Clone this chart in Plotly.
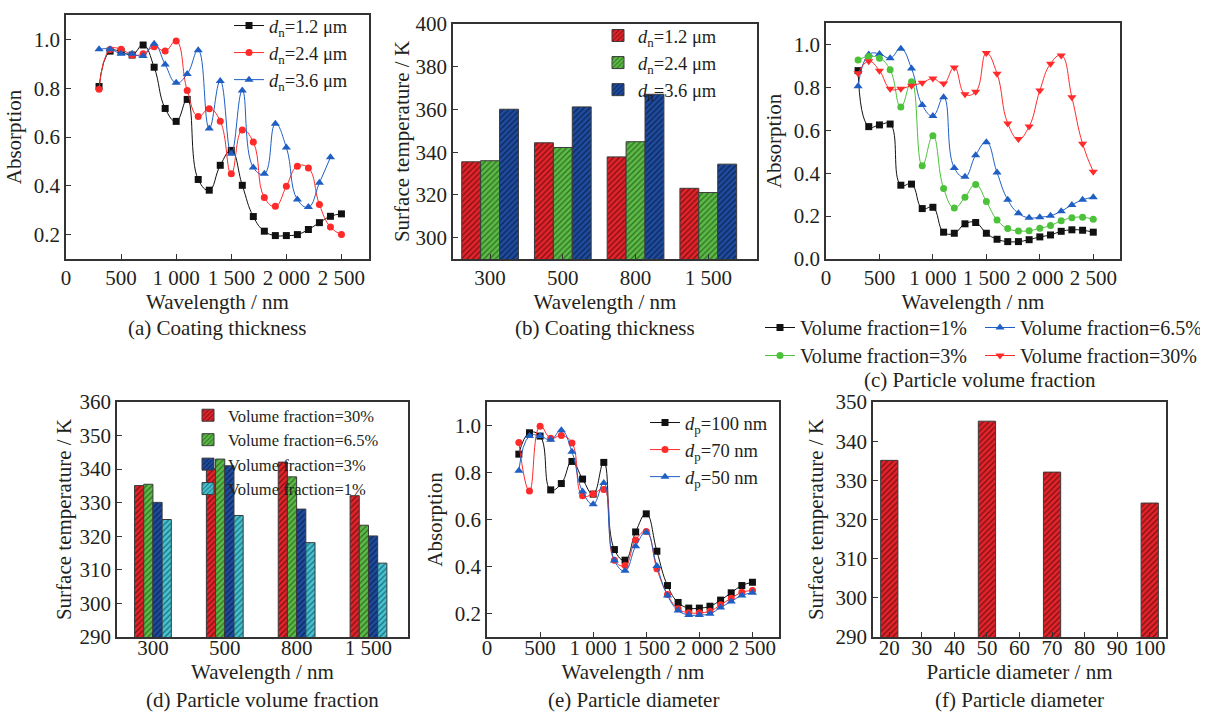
import plotly.graph_objects as go

# ---------------- data ----------------
wl = [300, 400, 500, 600, 700, 800, 900, 1000, 1100, 1200, 1300, 1400, 1500,
      1600, 1700, 1800, 1900, 2000, 2100, 2200, 2300, 2400, 2500]
wl_short = wl[:-1]
wl_ticks = [0, 500, 1000, 1500, 2000, 2500]
wl_ticklabels = ["0", "500", "1 000", "1 500", "2 000", "2 500"]

# (a) coating thickness - absorption
a_d12 = [0.807, 0.952, 0.950, 0.936, 0.977, 0.886, 0.717, 0.664, 0.754, 0.426, 0.382, 0.484,
         0.545, 0.402, 0.274, 0.214, 0.196, 0.196, 0.200, 0.221, 0.249, 0.275, 0.285]
a_d24 = [0.796, 0.959, 0.960, 0.936, 0.941, 0.970, 0.952, 0.993, 0.791, 0.684, 0.716, 0.665,
         0.449, 0.629, 0.579, 0.352, 0.316, 0.398, 0.480, 0.473, 0.323, 0.231, 0.200]
a_d36 = [0.960, 0.960, 0.941, 0.941, 0.932, 0.982, 0.897, 0.822, 0.858, 0.956, 0.635, 0.830,
         0.531, 0.791, 0.475, 0.449, 0.654, 0.557, 0.344, 0.313, 0.412, 0.517]

# (b) coating thickness - surface temperature
b_cats = ["300", "500", "800", "1 500"]
b_d12 = [335.5, 344.4, 337.8, 323.1]
b_d24 = [336.0, 342.2, 344.9, 321.1]
b_d36 = [360.1, 361.2, 367.1, 334.4]

# (c) particle volume fraction - absorption
c_1 = [0.878, 0.617, 0.625, 0.629, 0.344, 0.349, 0.235, 0.241, 0.125, 0.120, 0.164, 0.170,
       0.120, 0.092, 0.081, 0.081, 0.090, 0.103, 0.112, 0.129, 0.136, 0.134, 0.125]
c_3 = [0.928, 0.944, 0.936, 0.882, 0.709, 0.826, 0.435, 0.575, 0.329, 0.238, 0.288, 0.347,
       0.268, 0.182, 0.142, 0.131, 0.132, 0.143, 0.156, 0.178, 0.192, 0.195, 0.185]
c_65 = [0.805, 0.953, 0.956, 0.936, 0.980, 0.888, 0.718, 0.667, 0.754, 0.424, 0.383, 0.484,
        0.544, 0.403, 0.276, 0.213, 0.192, 0.195, 0.202, 0.223, 0.252, 0.276, 0.288]
c_30 = [0.866, 0.922, 0.878, 0.793, 0.794, 0.808, 0.821, 0.841, 0.818, 0.893, 0.768, 0.779,
        0.960, 0.864, 0.632, 0.559, 0.618, 0.785, 0.910, 0.949, 0.754, 0.537, 0.407]

# (d) particle volume fraction - surface temperature
d_cats = ["300", "500", "800", "1 500"]
d_30 = [335.1, 340.1, 342.1, 332.1]
d_65 = [335.5, 343.0, 337.7, 323.3]
d_3 = [330.1, 341.0, 328.1, 320.1]
d_1 = [325.0, 326.2, 318.1, 312.0]

# (e) particle diameter - absorption
e_100 = [0.878, 0.969, 0.955, 0.726, 0.753, 0.847, 0.772, 0.708, 0.843, 0.472, 0.427, 0.547,
         0.624, 0.465, 0.319, 0.247, 0.223, 0.223, 0.231, 0.257, 0.288, 0.319, 0.333]
e_70 = [0.928, 0.721, 0.997, 0.946, 0.957, 0.926, 0.701, 0.709, 0.728, 0.427, 0.404, 0.513,
        0.549, 0.390, 0.281, 0.220, 0.203, 0.203, 0.210, 0.237, 0.265, 0.290, 0.298]
e_50 = [0.807, 0.955, 0.955, 0.939, 0.980, 0.888, 0.719, 0.665, 0.755, 0.426, 0.382, 0.486,
        0.545, 0.402, 0.277, 0.213, 0.194, 0.194, 0.199, 0.226, 0.251, 0.277, 0.288]

# (f) particle diameter - surface temperature
f_diam = [20, 50, 70, 100]
f_temp = [335.1, 345.1, 332.1, 324.2]

captions = ["(a) Coating thickness", "(b) Coating thickness", "(c) Particle volume fraction",
            "(d) Particle volume fraction", "(e) Particle diameter", "(f) Particle diameter"]

# ---------------- style ----------------
FONT = "Liberation Serif"
TXT = "#231f20"
W, H = 1225, 712
BLACK, RED, BLUE, GREEN = "#111111", "#ff2a2a", "#1f5fc4", "#4cc23a"
BAR_RED, BAR_GREEN, BAR_BLUE, BAR_CYAN = "#e3242b", "#5dba47", "#1f4c9f", "#45c3d3"

def px_dom_x(a, b):
    return [a / W, b / W]

def px_dom_y(top, bottom):
    return [1 - bottom / H, 1 - top / H]

fig = go.Figure()

def line_trace(x, y, name, color, symbol, size, ax, legend):
    return go.Scatter(x=x, y=y, name=name, mode="lines+markers",
                      line=dict(color=color, width=1, shape="spline", smoothing=1.3),
                      marker=dict(symbol=symbol, size=size, color=color),
                      xaxis="x" + ax, yaxis="y" + ax, legend=legend)

def bar_trace(x, y, name, color, fg, ax, legend, width, offset):
    return go.Bar(x=x, y=y, name=name, width=width, offset=offset,
                  marker=dict(color=color, line=dict(color="#3a3a3a", width=1),
                              pattern=dict(shape="/", bgcolor=color, fgcolor=fg, size=4, solidity=0.3)),
                  xaxis="x" + ax, yaxis="y" + ax, legend=legend)

dn = lambda v: "<i>d</i><sub>n</sub>=" + v + " μm"
dp = lambda v: "<i>d</i><sub>p</sub>=" + v + " nm"

# (a)
fig.add_trace(line_trace(wl, a_d12, dn("1.2"), BLACK, "square", 7, "", "legend"))
fig.add_trace(line_trace(wl, a_d24, dn("2.4"), RED, "circle", 7, "", "legend"))
fig.add_trace(line_trace(wl_short, a_d36, dn("3.6"), BLUE, "triangle-up", 8, "", "legend"))

# (b)
bw = 0.26
fig.add_trace(bar_trace(b_cats, b_d12, dn("1.2"), BAR_RED, "#7a0f12", "2", "legend2", bw, -1.5 * bw))
fig.add_trace(bar_trace(b_cats, b_d24, dn("2.4"), BAR_GREEN, "#2d6e22", "2", "legend2", bw, -0.5 * bw))
fig.add_trace(bar_trace(b_cats, b_d36, dn("3.6"), BAR_BLUE, "#0c2556", "2", "legend2", bw, 0.5 * bw))

# (c)
fig.add_trace(line_trace(wl, c_1, "Volume fraction=1%", BLACK, "square", 7, "3", "legend3"))
fig.add_trace(line_trace(wl, c_65, "Volume fraction=6.5%", BLUE, "triangle-up", 8, "3", "legend3"))
fig.add_trace(line_trace(wl, c_3, "Volume fraction=3%", GREEN, "circle", 7, "3", "legend4"))
fig.add_trace(line_trace(wl, c_30, "Volume fraction=30%", RED, "triangle-down", 8, "3", "legend4"))

# (d)
dw = 0.128
fig.add_trace(bar_trace(d_cats, d_30, "Volume fraction=30%", BAR_RED, "#7a0f12", "4", "legend5", dw, -2 * dw))
fig.add_trace(bar_trace(d_cats, d_65, "Volume fraction=6.5%", BAR_GREEN, "#2d6e22", "4", "legend5", dw, -1 * dw))
fig.add_trace(bar_trace(d_cats, d_3, "Volume fraction=3%", BAR_BLUE, "#0c2556", "4", "legend5", dw, 0))
fig.add_trace(bar_trace(d_cats, d_1, "Volume fraction=1%", BAR_CYAN, "#1d6e7a", "4", "legend5", dw, dw))

# (e)
fig.add_trace(line_trace(wl, e_100, dp("100"), BLACK, "square", 7, "5", "legend6"))
fig.add_trace(line_trace(wl, e_70, dp("70"), RED, "circle", 7, "5", "legend6"))
fig.add_trace(line_trace(wl, e_50, dp("50"), BLUE, "triangle-up", 8, "5", "legend6"))

# (f)
fig.add_trace(go.Bar(x=f_diam, y=f_temp, width=5.3, showlegend=False,
                     marker=dict(color=BAR_RED, line=dict(color="#3a3a3a", width=1),
                                 pattern=dict(shape="/", bgcolor=BAR_RED, fgcolor="#7a0f12", size=4, solidity=0.3)),
                     xaxis="x6", yaxis="y6"))

axis_common = dict(showline=True, mirror=True, linecolor="#333333", linewidth=1.5,
                   ticks="inside", ticklen=5, tickwidth=1, tickcolor="#333333",
                   showgrid=False, zeroline=False, automargin=False,
                   tickfont=dict(family=FONT, size=21, color=TXT))

def xax(dom, title, lab_off, title_off, **kw):
    d = dict(axis_common)
    d.update(domain=dom, title=dict(text=title, font=dict(family=FONT, size=21, color=TXT), standoff=title_off),
             ticklabelstandoff=lab_off)
    d.update(kw)
    return d

def yax(dom, title, anchor, title_off=6, **kw):
    d = dict(axis_common)
    d.update(domain=dom, anchor=anchor,
             title=dict(text=title, font=dict(family=FONT, size=21, color=TXT), standoff=title_off))
    d.update(kw)
    return d

abs_ticks = [0.2, 0.4, 0.6, 0.8, 1.0]
abs_ticks_c = [0.0, 0.2, 0.4, 0.6, 0.8, 1.0]

dom = {
    "a": (px_dom_x(66, 369), px_dom_y(15, 259)),
    "b": (px_dom_x(453, 757), px_dom_y(24, 259)),
    "c": (px_dom_x(826, 1120), px_dom_y(23, 259)),
    "d": (px_dom_x(117, 408), px_dom_y(402, 637)),
    "e": (px_dom_x(487, 779), px_dom_y(402, 637)),
    "f": (px_dom_x(873, 1166), px_dom_y(402, 637)),
}

TOP_LAB, TOP_TIT = -1, 2
BOT_LAB, BOT_TIT = -9, 3

layout = dict(
    template="none",
    width=W, height=H, margin=dict(l=0, r=0, t=0, b=0, autoexpand=False),
    paper_bgcolor="white", plot_bgcolor="white",
    font=dict(family=FONT, color=TXT), barmode="group",
    xaxis=xax(dom["a"][0], "Wavelength / nm", TOP_LAB, TOP_TIT, range=[0, 2750], tickvals=wl_ticks,
              ticktext=wl_ticklabels, anchor="y"),
    yaxis=yax(dom["a"][1], "Absorption", "x", range=[0.1, 1.1], tickvals=abs_ticks, tickformat=".1f"),
    xaxis2=xax(dom["b"][0], "Wavelength / nm", TOP_LAB, TOP_TIT, type="category", range=[-0.51, 3.67], anchor="y2"),
    yaxis2=yax(dom["b"][1], "Surface temperature / K", "x2", title_off=0, range=[290, 400], dtick=20),
    xaxis3=xax(dom["c"][0], "Wavelength / nm", TOP_LAB, TOP_TIT, range=[0, 2750], tickvals=wl_ticks,
               ticktext=wl_ticklabels, anchor="y3"),
    yaxis3=yax(dom["c"][1], "Absorption", "x3", range=[0, 1.1], tickvals=abs_ticks_c, tickformat=".1f"),
    xaxis4=xax(dom["d"][0], "Wavelength / nm", BOT_LAB, BOT_TIT, type="category", range=[-0.5, 3.55], anchor="y4"),
    yaxis4=yax(dom["d"][1], "Surface temperature / K", "x4", title_off=2, range=[290, 360], dtick=10),
    xaxis5=xax(dom["e"][0], "Wavelength / nm", BOT_LAB, BOT_TIT, range=[0, 2750], tickvals=wl_ticks,
               ticktext=wl_ticklabels, anchor="y5"),
    yaxis5=yax(dom["e"][1], "Absorption", "x5", range=[0.1, 1.1], tickvals=abs_ticks, tickformat=".1f"),
    xaxis6=xax(dom["f"][0], "Particle diameter / nm", BOT_LAB, BOT_TIT, range=[15, 105], dtick=10, tick0=20,
               anchor="y6"),
    yaxis6=yax(dom["f"][1], "Surface temperature / K", "x6", range=[290, 350], dtick=10),
)

leg_common = dict(bgcolor="rgba(0,0,0,0)", borderwidth=0, xanchor="left", yanchor="top",
                  tracegroupgap=0, itemsizing="trace")
layout["legend"] = dict(leg_common, x=229 / W, y=1 - 7 / H, font=dict(family=FONT, size=18.5, color=TXT))
layout["legend2"] = dict(leg_common, x=598 / W, y=1 - 17 / H, font=dict(family=FONT, size=18.5, color=TXT))
layout["legend3"] = dict(leg_common, x=760 / W, y=1 - 308 / H, orientation="h", entrywidth=175,
                         font=dict(family=FONT, size=20, color=TXT))
layout["legend4"] = dict(leg_common, x=760 / W, y=1 - 336 / H, orientation="h", entrywidth=175,
                         font=dict(family=FONT, size=20, color=TXT))
layout["legend5"] = dict(leg_common, x=188 / W, y=1 - 398 / H, font=dict(family=FONT, size=16.5, color=TXT))
layout["legend6"] = dict(leg_common, x=645 / W, y=1 - 404 / H, font=dict(family=FONT, size=18.5, color=TXT))

fig.update_layout(**layout)

cap_pos = [(217, 328), (605, 328), (980, 380), (262, 700), (633, 700), (1019, 700)]
for txt, (cx, cy) in zip(captions, cap_pos):
    fig.add_annotation(text=txt, x=cx / W, y=1 - cy / H, xref="paper", yref="paper",
                       showarrow=False, xanchor="center", yanchor="middle",
                       font=dict(family=FONT, size=21, color=TXT))

fig.write_html("out.html")
